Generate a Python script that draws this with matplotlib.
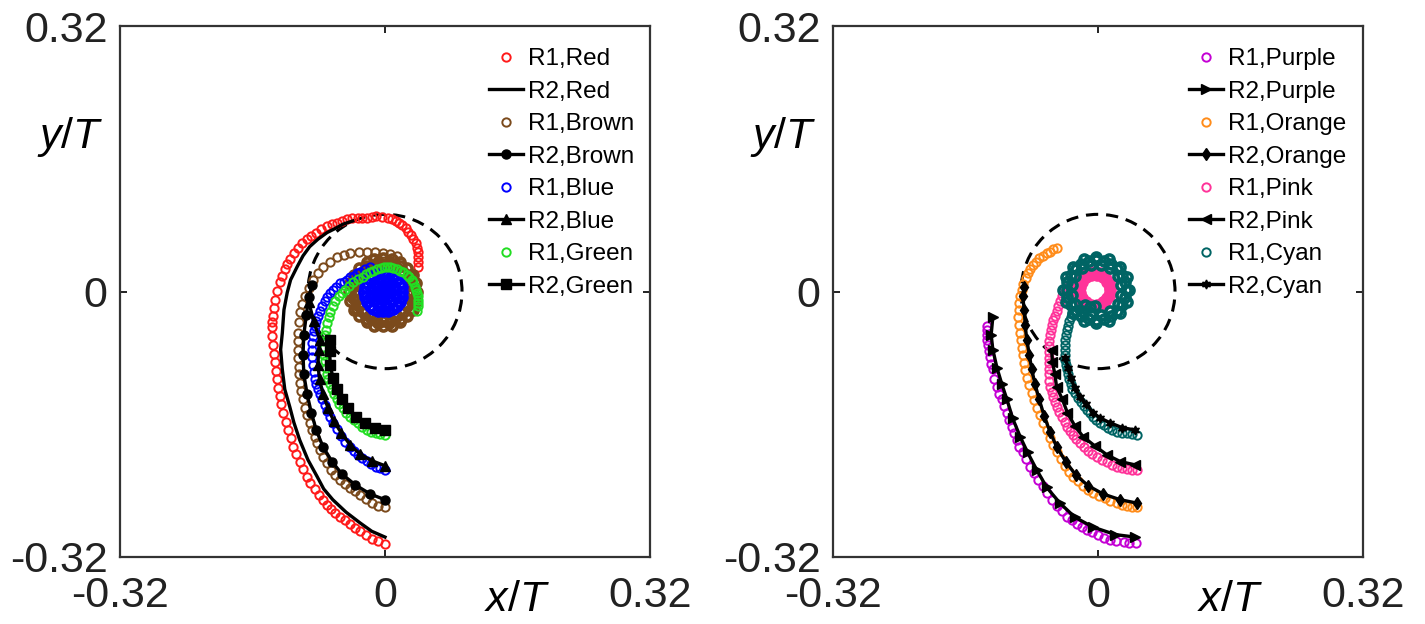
"""Two-panel vortex trajectory comparison (R1 circles vs R2 black lines)."""

import matplotlib
matplotlib.use("Agg")
import matplotlib.pyplot as plt
from matplotlib.patches import Circle
import numpy as np

plt.rcParams["font.family"] = ["Liberation Sans", "DejaVu Sans"]
plt.rcParams["axes.unicode_minus"] = False
plt.rcParams["mathtext.fontset"] = "custom"
plt.rcParams["mathtext.it"] = "Liberation Sans:italic"
plt.rcParams["mathtext.rm"] = "Liberation Sans"

LIM = 0.32
TICKS = [-0.32, 0, 0.32]
TICK_LABELS = ["-0.32", "0", "0.32"]
CIRCLE_R = 0.093

# ---- left panel ----
RED_R1_X = [0.000, -0.008, -0.016, -0.023, -0.030, -0.036, -0.042, -0.048, -0.054, -0.060,
            -0.065, -0.070, -0.075, -0.080, -0.085, -0.090, -0.094, -0.099, -0.103, -0.107,
            -0.111, -0.114, -0.117, -0.120, -0.123, -0.125, -0.127, -0.129, -0.130, -0.132,
            -0.133, -0.134, -0.135, -0.136, -0.136, -0.136, -0.135, -0.134, -0.133, -0.130,
            -0.127, -0.124, -0.121, -0.118, -0.115, -0.110, -0.105, -0.100, -0.094, -0.089,
            -0.083, -0.077, -0.070, -0.064, -0.058, -0.052, -0.046, -0.040, -0.033, -0.028,
            -0.022, -0.016, -0.011, -0.004, 0.004, 0.009, 0.013, 0.017, 0.021, 0.025,
            0.028, 0.031, 0.034, 0.037, 0.039, 0.040, 0.040, 0.040, 0.040]
RED_R1_Y = [-0.304, -0.301, -0.298, -0.294, -0.289, -0.285, -0.280, -0.276, -0.272, -0.267,
            -0.262, -0.257, -0.251, -0.245, -0.238, -0.231, -0.223, -0.214, -0.205, -0.196,
            -0.187, -0.177, -0.167, -0.157, -0.146, -0.136, -0.126, -0.116, -0.106, -0.096,
            -0.085, -0.075, -0.064, -0.054, -0.043, -0.037, -0.030, -0.020, -0.010, 0.001,
            0.011, 0.019, 0.027, 0.033, 0.039, 0.046, 0.052, 0.058, 0.063, 0.067,
            0.071, 0.075, 0.079, 0.081, 0.083, 0.085, 0.087, 0.088, 0.089, 0.089,
            0.089, 0.090, 0.091, 0.090, 0.088, 0.087, 0.085, 0.083, 0.080, 0.076,
            0.072, 0.068, 0.063, 0.058, 0.053, 0.048, 0.042, 0.036, 0.030]
RED_R2_X = [0.000, -0.016, -0.030, -0.047, -0.063, -0.074, -0.082, -0.093, -0.103, -0.110,
            -0.115, -0.121, -0.124, -0.126, -0.124, -0.122, -0.118, -0.114, -0.106, -0.099,
            -0.091, -0.081, -0.070, -0.060, -0.051, -0.039]
RED_R2_Y = [-0.296, -0.289, -0.279, -0.266, -0.251, -0.238, -0.223, -0.203, -0.179, -0.158,
            -0.139, -0.118, -0.094, -0.070, -0.050, -0.022, -0.001, 0.014, 0.030, 0.043,
            0.054, 0.063, 0.071, 0.076, 0.081, 0.085]

BROWN_R1_X = [0.000, -0.008, -0.016, -0.023, -0.030, -0.036, -0.042, -0.048, -0.054, -0.060,
              -0.065, -0.070, -0.075, -0.079, -0.082, -0.085, -0.088, -0.091, -0.094, -0.097,
              -0.099, -0.101, -0.103, -0.104, -0.104, -0.105, -0.105, -0.105, -0.105, -0.104,
              -0.103, -0.100, -0.097, -0.092, -0.087, -0.081, -0.075, -0.067, -0.058, -0.050,
              -0.042, -0.032, -0.022, -0.012, -0.002, 0.006, 0.014]
BROWN_R1_Y = [-0.260, -0.258, -0.255, -0.250, -0.245, -0.241, -0.237, -0.232, -0.227, -0.221,
              -0.215, -0.207, -0.199, -0.191, -0.182, -0.175, -0.167, -0.158, -0.149, -0.140,
              -0.130, -0.120, -0.110, -0.100, -0.091, -0.080, -0.070, -0.060, -0.050, -0.037,
              -0.025, -0.015, -0.006, 0.004, 0.014, 0.022, 0.030, 0.036, 0.041, 0.044,
              0.047, 0.048, 0.048, 0.048, 0.047, 0.045, 0.043]
BROWN_RING_X = [0.009, 0.018, 0.027, 0.034, 0.038, 0.039, 0.038, 0.034, 0.027, 0.018,
                0.009, -0.002, -0.013, -0.022, -0.031, -0.038, -0.042, -0.043, -0.042, -0.038,
                -0.031, -0.022, -0.013, -0.002,
                0.005, 0.019, 0.030, 0.035, 0.035, 0.030, 0.019, 0.005, -0.009, -0.023,
                -0.034, -0.039, -0.039, -0.034, -0.023, -0.009,
                0.007, 0.015, 0.022, 0.027, 0.031, 0.032, 0.031, 0.027, 0.022, 0.015,
                0.007, -0.002, -0.011, -0.019, -0.026, -0.031, -0.035, -0.036, -0.035, -0.031,
                -0.026, -0.019, -0.011, -0.002]
BROWN_RING_Y = [0.039, 0.035, 0.028, 0.020, 0.010, -0.001, -0.012, -0.022, -0.030, -0.037,
                -0.041, -0.042, -0.041, -0.037, -0.030, -0.022, -0.012, -0.001, 0.010, 0.020,
                0.028, 0.035, 0.039, 0.040,
                0.036, 0.031, 0.020, 0.006, -0.008, -0.022, -0.033, -0.038, -0.038, -0.033,
                -0.022, -0.008, 0.006, 0.020, 0.031, 0.036,
                0.032, 0.028, 0.023, 0.016, 0.008, -0.001, -0.010, -0.018, -0.025, -0.030,
                -0.034, -0.035, -0.034, -0.030, -0.025, -0.018, -0.010, -0.001, 0.008, 0.016,
                0.023, 0.028, 0.032, 0.033]
BROWN_R2_X = [0.000, -0.018, -0.036, -0.052, -0.064, -0.075, -0.083, -0.089, -0.094, -0.098,
              -0.099, -0.098, -0.095, -0.092, -0.088]
BROWN_R2_Y = [-0.251, -0.244, -0.233, -0.220, -0.205, -0.187, -0.167, -0.146, -0.124, -0.100,
              -0.076, -0.052, -0.028, -0.007, 0.008]

BLUE_R1_X = [0.000, -0.006, -0.011, -0.017, -0.022, -0.028, -0.033, -0.038, -0.042, -0.048,
             -0.053, -0.058, -0.063, -0.067, -0.070, -0.073, -0.076, -0.079, -0.081, -0.083,
             -0.085, -0.086, -0.087, -0.088, -0.088, -0.088, -0.087, -0.086, -0.085, -0.083,
             -0.081, -0.079, -0.076, -0.073, -0.070, -0.067, -0.063, -0.059, -0.054, -0.050,
             -0.046, -0.042, -0.037, -0.034, -0.030, -0.024, -0.018]
BLUE_R1_Y = [-0.215, -0.213, -0.211, -0.208, -0.204, -0.201, -0.197, -0.192, -0.187, -0.181,
             -0.174, -0.166, -0.158, -0.151, -0.144, -0.137, -0.130, -0.124, -0.118, -0.112,
             -0.106, -0.097, -0.088, -0.079, -0.070, -0.062, -0.054, -0.048, -0.042, -0.036,
             -0.030, -0.024, -0.018, -0.012, -0.007, -0.002, 0.002, 0.006, 0.010, 0.012,
             0.014, 0.017, 0.019, 0.022, 0.024, 0.027, 0.029]
BLUE_DISK_X = [-0.014, -0.008, -0.002, 0.004, 0.010, 0.014, 0.018, 0.020, 0.021, 0.020,
               0.018, 0.014, 0.010, 0.004, -0.002, -0.008, -0.014, -0.018, -0.022, -0.024,
               -0.025, -0.024, -0.022, -0.018,
               -0.006, 0.002, 0.009, 0.013, 0.013, 0.009, 0.002, -0.006, -0.013, -0.017,
               -0.017, -0.013,
               -0.002, 0.004, 0.007, 0.004, -0.002, -0.008, -0.011, -0.008,
               -0.002, 0.002, -0.002, -0.006]
BLUE_DISK_Y = [0.019, 0.021, 0.022, 0.021, 0.019, 0.015, 0.010, 0.005, -0.001, -0.007,
               -0.013, -0.017, -0.021, -0.023, -0.024, -0.023, -0.021, -0.017, -0.013, -0.007,
               -0.001, 0.005, 0.010, 0.015,
               0.014, 0.014, 0.010, 0.003, -0.005, -0.012, -0.017, -0.017, -0.012, -0.005,
               0.003, 0.010,
               0.008, 0.005, -0.001, -0.007, -0.010, -0.007, -0.001, 0.005,
               0.003, -0.001, -0.005, -0.001]
BLUE_R2_X = [0.000, -0.016, -0.030, -0.042, -0.053, -0.062, -0.069, -0.075, -0.079, -0.081,
             -0.080, -0.079, -0.086, -0.092]
BLUE_R2_Y = [-0.210, -0.204, -0.196, -0.185, -0.170, -0.156, -0.140, -0.123, -0.106, -0.088,
             -0.070, -0.058, -0.036, -0.013]

GREEN_R1_X = [0.000, -0.006, -0.011, -0.017, -0.022, -0.028, -0.033, -0.038, -0.042, -0.047,
              -0.051, -0.055, -0.058, -0.061, -0.064, -0.067, -0.069, -0.070, -0.071, -0.073,
              -0.074, -0.074, -0.074, -0.073, -0.071, -0.070, -0.068, -0.066, -0.063, -0.060,
              -0.056, -0.052, -0.048, -0.044, -0.039, -0.033, -0.027, -0.023, -0.018, -0.014,
              -0.010, -0.005, -0.001, 0.003, 0.006, 0.010, 0.014, 0.018, 0.022, 0.026,
              0.029, 0.032, 0.034, 0.036, 0.037, 0.039, 0.040, 0.040, 0.040, 0.040, 0.039]
GREEN_R1_Y = [-0.173, -0.172, -0.171, -0.169, -0.167, -0.163, -0.159, -0.155, -0.151, -0.146,
              -0.141, -0.136, -0.130, -0.124, -0.118, -0.112, -0.106, -0.099, -0.092, -0.084,
              -0.076, -0.068, -0.060, -0.053, -0.046, -0.038, -0.031, -0.025, -0.018, -0.012,
              -0.006, -0.002, 0.002, 0.007, 0.011, 0.015, 0.018, 0.021, 0.023, 0.025,
              0.027, 0.028, 0.029, 0.029, 0.029, 0.028, 0.027, 0.025, 0.023, 0.020,
              0.017, 0.014, 0.011, 0.006, 0.002, -0.002, -0.006, -0.010, -0.014, -0.018, -0.023]
GREEN_R2_X = [0.000, -0.012, -0.024, -0.035, -0.045, -0.052, -0.058, -0.063, -0.066, -0.067,
              -0.067]
GREEN_R2_Y = [-0.167, -0.164, -0.158, -0.151, -0.141, -0.130, -0.118, -0.104, -0.088, -0.072,
              -0.058]

# ---- right panel ----
PURPLE_R1_X = [0.046, 0.038, 0.031, 0.022, 0.014, 0.007, 0.000, -0.007, -0.013, -0.019,
               -0.025, -0.031, -0.037, -0.044, -0.050, -0.056, -0.062, -0.067, -0.072, -0.077,
               -0.082, -0.087, -0.091, -0.095, -0.098, -0.101, -0.104, -0.107, -0.110, -0.113,
               -0.116, -0.119, -0.122, -0.125, -0.127, -0.129, -0.130, -0.132, -0.133, -0.134,
               -0.134, -0.134, -0.134]
PURPLE_R1_Y = [-0.303, -0.303, -0.302, -0.301, -0.300, -0.297, -0.293, -0.290, -0.287, -0.284,
               -0.280, -0.276, -0.272, -0.265, -0.258, -0.251, -0.243, -0.235, -0.227, -0.219,
               -0.211, -0.202, -0.194, -0.187, -0.179, -0.171, -0.163, -0.155, -0.146, -0.138,
               -0.130, -0.123, -0.115, -0.105, -0.094, -0.087, -0.079, -0.072, -0.064, -0.058,
               -0.052, -0.047, -0.041]
PURPLE_R2_X = [0.045, 0.021, -0.006, -0.028, -0.046, -0.062, -0.074, -0.085, -0.094, -0.103,
               -0.110, -0.116, -0.122, -0.127, -0.129, -0.127]
PURPLE_R2_Y = [-0.296, -0.293, -0.284, -0.272, -0.255, -0.236, -0.215, -0.194, -0.175, -0.153,
               -0.130, -0.112, -0.092, -0.070, -0.052, -0.031]

ORANGE_R1_X = [0.047, 0.041, 0.035, 0.029, 0.023, 0.015, 0.008, 0.001, -0.006, -0.012,
               -0.018, -0.024, -0.030, -0.035, -0.040, -0.045, -0.050, -0.054, -0.058, -0.062,
               -0.066, -0.070, -0.074, -0.077, -0.080, -0.083, -0.086, -0.088, -0.089, -0.091,
               -0.092, -0.093, -0.094, -0.096, -0.097, -0.096, -0.095, -0.094, -0.092, -0.090,
               -0.087, -0.085, -0.082, -0.079, -0.075, -0.071, -0.066, -0.062, -0.058, -0.054,
               -0.050]
ORANGE_R1_Y = [-0.260, -0.260, -0.259, -0.257, -0.255, -0.252, -0.249, -0.246, -0.243, -0.239,
               -0.234, -0.229, -0.223, -0.217, -0.210, -0.202, -0.194, -0.185, -0.176, -0.167,
               -0.158, -0.149, -0.140, -0.131, -0.122, -0.113, -0.104, -0.095, -0.086, -0.077,
               -0.068, -0.059, -0.050, -0.040, -0.031, -0.022, -0.014, -0.006, 0.002, 0.009,
               0.016, 0.022, 0.027, 0.032, 0.036, 0.040, 0.043, 0.046, 0.048, 0.051,
               0.053]
ORANGE_R2_X = [0.047, 0.027, 0.006, -0.012, -0.027, -0.039, -0.050, -0.058, -0.065, -0.071,
               -0.076, -0.080, -0.083, -0.086, -0.088, -0.089, -0.091, -0.089]
ORANGE_R2_Y = [-0.255, -0.251, -0.244, -0.234, -0.221, -0.205, -0.187, -0.169, -0.150, -0.130,
               -0.112, -0.094, -0.076, -0.058, -0.040, -0.022, -0.006, 0.005]

PINK_R1_X = [0.047, 0.041, 0.035, 0.029, 0.023, 0.017, 0.011, 0.005, -0.001, -0.007,
             -0.012, -0.017, -0.022, -0.026, -0.030, -0.034, -0.037, -0.040, -0.043, -0.047,
             -0.050, -0.052, -0.054, -0.056, -0.058, -0.059, -0.059, -0.059, -0.059, -0.059,
             -0.059, -0.059, -0.059, -0.058, -0.057, -0.056, -0.054, -0.052, -0.050, -0.048,
             -0.046, -0.043, -0.040, -0.036, -0.032]
PINK_R1_Y = [-0.215, -0.215, -0.214, -0.213, -0.211, -0.209, -0.206, -0.203, -0.199, -0.196,
             -0.192, -0.187, -0.182, -0.178, -0.173, -0.168, -0.163, -0.157, -0.151, -0.145,
             -0.139, -0.133, -0.127, -0.121, -0.115, -0.108, -0.100, -0.093, -0.086, -0.080,
             -0.073, -0.066, -0.060, -0.053, -0.046, -0.040, -0.034, -0.029, -0.023, -0.017,
             -0.011, -0.005, 0.001, 0.006, 0.008]
PINK_RING_X = [-0.026, -0.025, -0.020, -0.014, -0.006, 0.002, 0.008, 0.013, 0.014, 0.013,
               0.008, 0.002, -0.006, -0.014, -0.020, -0.025,
               -0.022, -0.019, -0.014, -0.008, -0.001, 0.006, 0.011, 0.014, 0.014, 0.011,
               0.006, -0.001, -0.008, -0.014, -0.019, -0.022]
PINK_RING_Y = [0.003, 0.011, 0.017, 0.022, 0.023, 0.022, 0.017, 0.011, 0.003, -0.005,
               -0.011, -0.016, -0.017, -0.016, -0.011, -0.005,
               0.006, 0.012, 0.017, 0.020, 0.020, 0.017, 0.012, 0.006, -0.002, -0.008,
               -0.013, -0.016, -0.016, -0.013, -0.008, -0.002]
PINK_R2_X = [0.045, 0.027, 0.011, -0.004, -0.018, -0.028, -0.037, -0.043, -0.050, -0.052,
             -0.055, -0.056]
PINK_R2_Y = [-0.209, -0.205, -0.197, -0.186, -0.175, -0.162, -0.146, -0.130, -0.115, -0.100,
             -0.085, -0.070]

CYAN_R1_X = [0.047, 0.041, 0.035, 0.029, 0.023, 0.017, 0.012, 0.007, 0.002, -0.002,
             -0.006, -0.010, -0.013, -0.017, -0.020, -0.024, -0.028, -0.031, -0.033, -0.035,
             -0.036, -0.038, -0.039, -0.040, -0.040, -0.040, -0.040, -0.040, -0.039, -0.038,
             -0.036, -0.035, -0.033, -0.031, -0.028]
CYAN_R1_Y = [-0.173, -0.172, -0.171, -0.170, -0.169, -0.167, -0.164, -0.161, -0.158, -0.155,
             -0.151, -0.147, -0.143, -0.138, -0.133, -0.128, -0.122, -0.117, -0.111, -0.106,
             -0.100, -0.094, -0.088, -0.082, -0.076, -0.070, -0.064, -0.058, -0.052, -0.046,
             -0.041, -0.036, -0.031, -0.027, -0.024]
CYAN_RING_X = [-0.039, -0.042, -0.039, -0.030, -0.017, -0.002, 0.013, 0.026, 0.035, 0.038,
               0.035, 0.026, 0.013, -0.002, -0.017, -0.030,
               -0.037, -0.038, -0.037, -0.033, -0.027, -0.020, -0.011, -0.002, 0.007, 0.016,
               0.023, 0.029, 0.033, 0.034, 0.033, 0.029, 0.023, 0.016, 0.007, -0.002,
               -0.011, -0.020, -0.027, -0.033,
               -0.032, -0.032, -0.028, -0.019, -0.008, 0.004, 0.015, 0.024, 0.028, 0.028,
               0.024, 0.015, 0.004, -0.008, -0.019, -0.028,
               -0.016, -0.010, -0.004]
CYAN_RING_Y = [-0.013, 0.002, 0.017, 0.030, 0.039, 0.042, 0.039, 0.030, 0.017, 0.002,
               -0.013, -0.026, -0.035, -0.038, -0.035, -0.026,
               -0.007, 0.002, 0.011, 0.020, 0.027, 0.033, 0.037, 0.038, 0.037, 0.033,
               0.027, 0.020, 0.011, 0.002, -0.007, -0.016, -0.023, -0.029, -0.033, -0.034,
               -0.033, -0.029, -0.023, -0.016,
               -0.004, 0.008, 0.019, 0.028, 0.032, 0.032, 0.028, 0.019, 0.008, -0.004,
               -0.015, -0.024, -0.028, -0.028, -0.024, -0.015,
               -0.016, -0.019, -0.018]
CYAN_R2_X = [0.045, 0.029, 0.014, 0.002, -0.006, -0.014, -0.022, -0.028, -0.033, -0.036,
             -0.040]
CYAN_R2_Y = [-0.167, -0.164, -0.158, -0.152, -0.146, -0.136, -0.127, -0.116, -0.104, -0.092,
             -0.080]

# name, colour, arc x/y, ring x/y (or None), R2 x/y, R2 marker
LEFT_SERIES = [
    ("Red", "#ff1a1a", RED_R1_X, RED_R1_Y, None, None, RED_R2_X, RED_R2_Y, None),
    ("Brown", "#7b4a1c", BROWN_R1_X, BROWN_R1_Y, BROWN_RING_X, BROWN_RING_Y,
     BROWN_R2_X, BROWN_R2_Y, "o"),
    ("Blue", "#0000ff", BLUE_R1_X, BLUE_R1_Y, BLUE_DISK_X, BLUE_DISK_Y,
     BLUE_R2_X, BLUE_R2_Y, "^"),
    ("Green", "#22dd22", GREEN_R1_X, GREEN_R1_Y, None, None, GREEN_R2_X, GREEN_R2_Y, "s"),
]
RIGHT_SERIES = [
    ("Purple", "#c400d4", PURPLE_R1_X, PURPLE_R1_Y, None, None,
     PURPLE_R2_X, PURPLE_R2_Y, ">"),
    ("Orange", "#ff8c1a", ORANGE_R1_X, ORANGE_R1_Y, None, None,
     ORANGE_R2_X, ORANGE_R2_Y, "d"),
    ("Pink", "#ff3399", PINK_R1_X, PINK_R1_Y, PINK_RING_X, PINK_RING_Y,
     PINK_R2_X, PINK_R2_Y, "<"),
    ("Cyan", "#006464", CYAN_R1_X, CYAN_R1_Y, CYAN_RING_X, CYAN_RING_Y,
     CYAN_R2_X, CYAN_R2_Y, (6, 1, 0)),
]


def draw_panel(ax, series, legend_x):
    ax.add_patch(Circle((0, 0), CIRCLE_R, fill=False, color="k", lw=2.2,
                        ls=(0, (4, 2.6)), zorder=1))
    for name, color, x1, y1, rx, ry, x2, y2, marker in series:
        ax.plot(np.array(x1), np.array(y1), ls="none", marker="o", ms=6, mfc="none",
                mec=color, mew=1.4, label=f"R1,{name}", zorder=2)
        if rx is not None:
            # the tightly wound core reads as a solid band
            ax.plot(np.array(rx), np.array(ry), ls="none", marker="o", ms=6.5,
                    mfc="none", mec=color, mew=2.6, zorder=2)
        ax.plot(np.array(x2), np.array(y2), color="k", lw=2.4, marker=marker, ms=6.5,
                mfc="k", mec="k", label=f"R2,{name}", zorder=3)
    ax.set_xlim(-LIM, LIM)
    ax.set_ylim(-LIM, LIM)
    ax.set_xticks(TICKS)
    ax.set_xticklabels(TICK_LABELS)
    ax.set_yticks(TICKS)
    ax.set_yticklabels(TICK_LABELS)
    ax.tick_params(direction="in", length=5, width=1.4, top=True, right=True,
                   labelsize=31, colors="#222222")
    ax.tick_params(axis="x", pad=14)
    ax.tick_params(axis="y", pad=9)
    for sp in ax.spines.values():
        sp.set_linewidth(1.6)
        sp.set_color("#333333")
    ax.text(0.749, -0.081, r"$x$/$T$", transform=ax.transAxes, fontsize=31,
            ha="center", va="center")
    ax.text(-0.094, 0.791, r"$y$/$T$", transform=ax.transAxes, fontsize=31,
            ha="center", va="center")
    ax.legend(loc="upper left", bbox_to_anchor=(legend_x, 0.958), frameon=False,
              fontsize=17.5, borderpad=0, borderaxespad=0, handlelength=1.4,
              handletextpad=0.2, labelspacing=0.43, numpoints=1)


fig = plt.figure(figsize=(14.25, 6.24), dpi=100)
ax1 = fig.add_axes([120 / 1425, 67 / 624, 530 / 1425, 531 / 624])
ax2 = fig.add_axes([833 / 1425, 67 / 624, 530 / 1425, 531 / 624])
draw_panel(ax1, LEFT_SERIES, 0.696)
draw_panel(ax2, RIGHT_SERIES, 0.672)
fig.savefig("out.png", dpi=100)
